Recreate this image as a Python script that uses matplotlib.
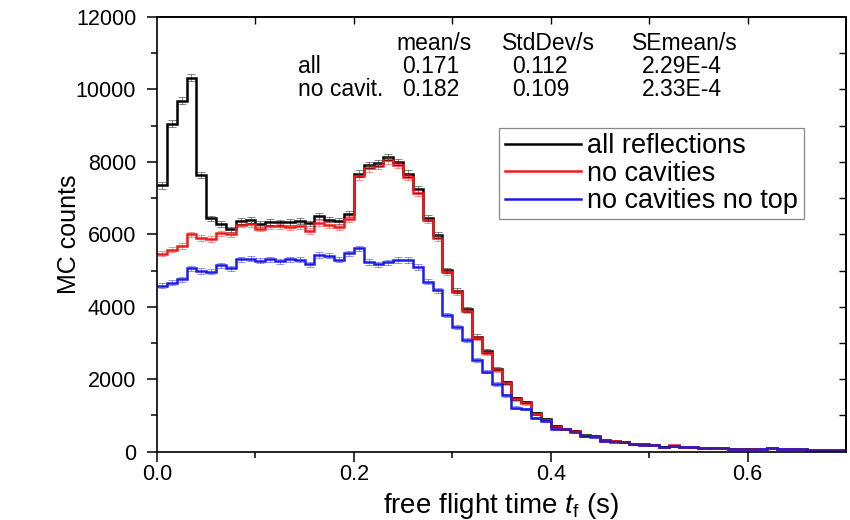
import numpy as np
import matplotlib
matplotlib.use("Agg")
import matplotlib.pyplot as plt

plt.rcParams['font.family'] = ['Liberation Sans', 'DejaVu Sans']
plt.rcParams['mathtext.fontset'] = 'custom'
plt.rcParams['mathtext.rm'] = 'Liberation Sans'
plt.rcParams['mathtext.it'] = 'Liberation Sans:italic'

# histogram bins: 0.01 s wide, 0 .. 0.7 s
BIN_WIDTH = 0.01
N_BINS = 70

all_reflections = [
    7350, 9060, 9690, 10330, 7630, 6440, 6280, 6135, 6370, 6390,
    6280, 6340, 6330, 6345, 6370, 6300, 6500, 6410, 6360, 6560,
    7680, 7910, 7970, 8140, 8000, 7680, 7240, 6460, 5980, 5010,
    4450, 3930, 3180, 2770, 2290, 1920, 1480, 1370, 1060, 900,
    700, 635, 570, 450, 430, 310, 290, 275, 210, 200,
    195, 135, 170, 130, 122, 102, 92, 90, 86, 85,
    82, 80, 105, 72, 66, 65, 60, 60, 56, 55,
]
no_cavities = [
    5470, 5580, 5675, 6000, 5900, 5870, 6025, 6000, 6270, 6280,
    6160, 6240, 6220, 6190, 6240, 6100, 6320, 6250, 6190, 6420,
    7600, 7820, 7880, 8040, 7910, 7590, 7150, 6390, 5900, 4950,
    4400, 3880, 3140, 2730, 2260, 1890, 1450, 1340, 1040, 880,
    680, 620, 560, 440, 425, 305, 285, 272, 205, 197,
    192, 132, 172, 127, 121, 101, 91, 90, 86, 85,
    81, 80, 105, 71, 65, 64, 60, 59, 55, 55,
]
no_cavities_no_top = [
    4580, 4660, 4760, 5060, 4990, 4970, 5150, 5060, 5310, 5330,
    5270, 5310, 5260, 5310, 5300, 5170, 5430, 5410, 5300, 5480,
    5610, 5240, 5170, 5230, 5290, 5290, 5100, 4690, 4460, 3770,
    3450, 3080, 2530, 2210, 1870, 1560, 1220, 1180, 940, 860,
    630, 620, 550, 430, 420, 300, 280, 270, 200, 195,
    190, 130, 170, 125, 120, 100, 90, 90, 85, 85,
    80, 80, 105, 70, 65, 64, 60, 58, 55, 55,
]

SERIES = [
    ("all reflections", all_reflections, "black"),
    ("no cavities", no_cavities, "#ee1c1c"),
    ("no cavities no top", no_cavities_no_top, "#1c1ce6"),
]

STAT_HEADER = ["mean/s", "StdDev/s", "SEmean/s"]
STAT_ROWS = [
    ("all", ["0.171", "0.112", "2.29E-4"]),
    ("no cavit.", ["0.182", "0.109", "2.33E-4"]),
]

edges = np.arange(N_BINS + 1) * BIN_WIDTH
centers = edges[:-1] + BIN_WIDTH / 2

fig = plt.figure(figsize=(8.5, 5.2), dpi=100)
ax = fig.add_axes([0.1847, 0.1313, 0.8106, 0.836])

for label, counts, color in SERIES:
    counts = np.asarray(counts, dtype=float)
    ax.errorbar(centers, counts, yerr=np.sqrt(counts), fmt='none',
                ecolor=color, elinewidth=0.6, capsize=3, capthick=0.6,
                alpha=0.55)
    ax.stairs(counts, edges, baseline=None, color=color, linewidth=1.8,
              label=label)

ax.set_xlim(0, 0.7)
ax.set_ylim(0, 12000)
ax.set_xticks([0.0, 0.2, 0.4, 0.6])
ax.set_xticklabels(["0.0", "0.2", "0.4", "0.6"])
ax.set_xticks(np.arange(0.1, 0.7, 0.2), minor=True)
ax.set_yticks(np.arange(0, 12001, 2000))
ax.set_yticks(np.arange(1000, 12000, 2000), minor=True)

ax.tick_params(axis='both', which='major', direction='out', length=7,
               width=1.1, labelsize=15.5)
ax.tick_params(axis='both', which='minor', direction='out', length=4,
               width=1.1)
ax.tick_params(axis='x', which='major', pad=2)
ax.tick_params(axis='y', which='major', pad=8)

# inward ticks on top and right, as in the original
top = ax.secondary_xaxis('top')
top.set_xticks(np.arange(0.1, 0.7, 0.1))
top.tick_params(direction='in', length=5, width=1.0, labeltop=False)
right = ax.secondary_yaxis('right')
right.set_yticks(np.arange(1000, 12000, 1000))
right.tick_params(direction='in', length=5, width=1.0, labelright=False)

for sp in list(ax.spines.values()) + [top.spines['top'], right.spines['right']]:
    sp.set_linewidth(1.2)

ax.set_xlabel("free flight time $t_\\mathrm{f}$ (s)", fontsize=20, labelpad=4)
ax.set_ylabel("MC counts", fontsize=18)
ax.yaxis.set_label_coords(-0.11, 0.5)

# statistics table
col_x = [0.348, 0.501, 0.689]
for x, h in zip(col_x, STAT_HEADER):
    ax.text(x, 0.940, h, transform=ax.transAxes, fontsize=16.5,
            ha='left', va='center')
row_y = [0.886, 0.833]
val_x = [0.356, 0.515, 0.704]
for y, (name, vals) in zip(row_y, STAT_ROWS):
    ax.text(0.205, y, name, transform=ax.transAxes, fontsize=16.5,
            ha='left', va='center')
    for x, v in zip(val_x, vals):
        ax.text(x, y, v, transform=ax.transAxes, fontsize=16.5,
                ha='left', va='center')

leg = ax.legend(loc='upper left', bbox_to_anchor=(0.497, 0.745),
                fontsize=19.5, frameon=True, fancybox=False, framealpha=1,
                edgecolor='#888888', handlelength=2.8, handletextpad=0.25,
                labelspacing=0.05, borderpad=0.2, borderaxespad=0)
leg.get_frame().set_linewidth(0.9)

fig.savefig("out.png", dpi=100)
